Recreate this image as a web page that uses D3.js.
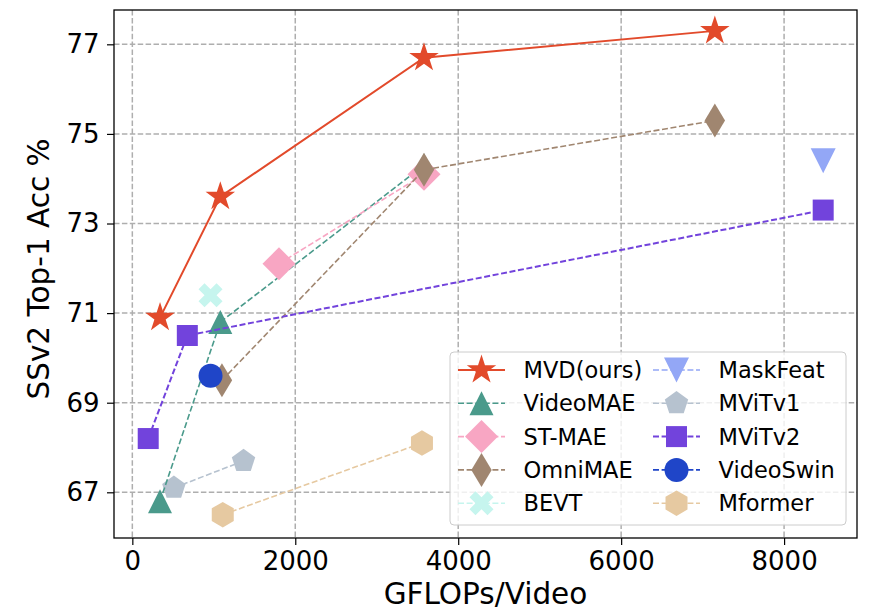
<!DOCTYPE html>
<html>
<head>
<meta charset="utf-8">
<script src="https://cdn.jsdelivr.net/npm/d3@7/dist/d3.min.js"></script>
<style>
  html, body { margin: 0; padding: 0; background: #ffffff; }
  svg { display: block; font-family: "DejaVu Sans", sans-serif; }
</style>
</head>
<body>
<svg id="chart" width="871" height="610"></svg>
<script>
// ---- data: GFLOPs per video (x) and SSv2 top-1 accuracy (y) ----
const seriesNames = ["MVD(ours)", "VideoMAE", "ST-MAE", "OmniMAE", "BEVT",
                     "MaskFeat", "MViTv1", "MViTv2", "VideoSwin", "Mformer"];

const mvdFlops       = [340, 1080, 3580, 7150];
const mvdAcc         = [70.9, 73.6, 76.7, 77.3];
const videoMaeFlops  = [340, 1080, 3580];
const videoMaeAcc    = [66.8, 70.8, 74.3];
const stMaeFlops     = [1800, 3580];
const stMaeAcc       = [72.1, 74.1];
const omniMaeFlops   = [1100, 3580, 7150];
const omniMaeAcc     = [69.5, 74.2, 75.3];
const bevtFlops      = [960];
const bevtAcc        = [71.4];
const maskFeatFlops  = [8480];
const maskFeatAcc    = [74.4];
const mvitV1Flops    = [510, 1365];
const mvitV1Acc      = [67.1, 67.7];
const mvitV2Flops    = [195, 675, 8480];
const mvitV2Acc      = [68.2, 70.5, 73.3];
const videoSwinFlops = [960];
const videoSwinAcc   = [69.6];
const mformerFlops   = [1110, 3555];
const mformerAcc     = [66.5, 68.1];

const xTicks = [0, 2000, 4000, 6000, 8000];
const yTicks = [67, 69, 71, 73, 75, 77];

// ---- styles per series ----
const colors  = ["#e24a2b", "#4a9a8b", "#f8a6c3", "#a08670", "#c6f5ee",
                 "#93a7f6", "#b6c2cf", "#7243dc", "#1f45c8", "#e6c9a1"];
const markers = ["star", "triUp", "diamond", "thinDiamond", "xFilled",
                 "triDown", "pentagon", "square", "circle", "hexagon"];
const dashed  = [false, true, true, true, true, true, true, true, true, true];
const lineW   = [2, 1.6, 1.6, 1.6, 1.6, 1.6, 1.6, 2, 1.6, 1.6];

const series = [
  [mvdFlops, mvdAcc], [videoMaeFlops, videoMaeAcc], [stMaeFlops, stMaeAcc],
  [omniMaeFlops, omniMaeAcc], [bevtFlops, bevtAcc], [maskFeatFlops, maskFeatAcc],
  [mvitV1Flops, mvitV1Acc], [mvitV2Flops, mvitV2Acc], [videoSwinFlops, videoSwinAcc],
  [mformerFlops, mformerAcc]
].map((s, i) => ({
  name: seriesNames[i], color: colors[i], marker: markers[i],
  dashed: dashed[i], width: lineW[i],
  points: s[0].map((f, j) => ({ x: f, y: s[1][j] }))
}));

// MViTv1 goes underneath the other series
const drawOrder = [6, 0, 1, 2, 3, 4, 5, 7, 8, 9];

// ---- layout ----
const svg = d3.select("#chart");
const plot = { left: 114, right: 857, top: 10, bottom: 538 };

const x = d3.scaleLinear().domain([-225, 8895]).range([plot.left, plot.right]);
const y = d3.scaleLinear().domain([65.98, 77.766]).range([plot.bottom, plot.top]);

// marker shapes, centred on (0,0)
function poly(pts) { return "M" + pts.map(p => p[0].toFixed(2) + "," + p[1].toFixed(2)).join("L") + "Z"; }
function regular(n, r, rot) {
  const pts = [];
  for (let i = 0; i < n; i++) {
    const a = (rot + i * 360 / n) * Math.PI / 180;
    pts.push([r * Math.cos(a), r * Math.sin(a)]);
  }
  return pts;
}
function markerPath(type, k) {
  k = k || 1;
  switch (type) {
    case "star": {
      const R = 15.5 * k, r = R * 0.381966, pts = [];
      for (let i = 0; i < 10; i++) {
        const a = (-90 + i * 36) * Math.PI / 180, rr = i % 2 ? r : R;
        pts.push([rr * Math.cos(a), rr * Math.sin(a)]);
      }
      return poly(pts);
    }
    case "triUp": { const s = 12 * k; return poly([[0, -s], [-s, s], [s, s]]); }
    case "triDown": { const s = 12.5 * k; return poly([[0, s], [-s, -s], [s, -s]]); }
    case "diamond": { const a = 16.5 * k; return poly([[0, -a], [a, 0], [0, a], [-a, 0]]); }
    case "thinDiamond": { const a = 17 * k, b = 10.2 * k; return poly([[0, -a], [b, 0], [0, a], [-b, 0]]); }
    case "square": { const h = 10.5 * k; return poly([[-h, -h], [h, -h], [h, h], [-h, h]]); }
    case "pentagon": return poly(regular(5, 12.3 * k, -90));
    case "hexagon": return poly(regular(6, 12.7 * k, -90));
    case "circle": { const r = 12 * k; return `M${r},0A${r},${r} 0 1,1 ${-r},0A${r},${r} 0 1,1 ${r},0Z`; }
    case "xFilled": {
      const ms = 25.5 * k;
      const base = [[-1, -3], [1, -3], [1, -1], [3, -1], [3, 1], [1, 1], [1, 3], [-1, 3], [-1, 1], [-3, 1], [-3, -1], [-1, -1]];
      const c = Math.SQRT1_2;
      return poly(base.map(p => {
        const px = p[0] / 6 * ms, py = p[1] / 6 * ms;
        return [px * c - py * c, px * c + py * c];
      }));
    }
  }
}

// ---- grid ----
const gridDash = "5.5,2.4";
const grid = svg.append("g");
grid.selectAll("line.gx").data(xTicks).join("line")
  .attr("x1", d => x(d)).attr("x2", d => x(d))
  .attr("y1", plot.top).attr("y2", plot.bottom)
  .attr("stroke", "#aeaeae").attr("stroke-width", 1.5).attr("stroke-dasharray", gridDash);
grid.selectAll("line.gy").data(yTicks).join("line")
  .attr("y1", d => y(d)).attr("y2", d => y(d))
  .attr("x1", plot.left).attr("x2", plot.right)
  .attr("stroke", "#aeaeae").attr("stroke-width", 1.5).attr("stroke-dasharray", gridDash);

// ---- series ----
svg.append("clipPath").attr("id", "plotClip").append("rect")
  .attr("x", plot.left).attr("y", plot.top)
  .attr("width", plot.right - plot.left).attr("height", plot.bottom - plot.top);

const marks = svg.append("g").attr("clip-path", "url(#plotClip)");
const line = d3.line().x(d => x(d.x)).y(d => y(d.y));

drawOrder.forEach(i => {
  const s = series[i];
  const g = marks.append("g");
  if (s.points.length > 1) {
    g.append("path").attr("d", line(s.points))
      .attr("fill", "none").attr("stroke", s.color).attr("stroke-width", s.width)
      .attr("stroke-dasharray", s.dashed ? "6,2.6" : null);
  }
  g.selectAll("path.m").data(s.points).join("path")
    .attr("class", "m")
    .attr("d", markerPath(s.marker))
    .attr("transform", d => `translate(${x(d.x)},${y(d.y)})`)
    .attr("fill", s.color);
});

// ---- axes ----
const xAxis = svg.append("g").attr("transform", `translate(0,${plot.bottom})`)
  .call(d3.axisBottom(x).tickValues(xTicks).tickFormat(d3.format("d")).tickSize(7).tickPadding(6.5));
const yAxis = svg.append("g").attr("transform", `translate(${plot.left},0)`)
  .call(d3.axisLeft(y).tickValues(yTicks).tickFormat(d3.format("d")).tickSize(7).tickPadding(7.5));
[xAxis, yAxis].forEach(a => {
  a.select(".domain").remove();
  a.selectAll(".tick line").attr("stroke", "#000").attr("stroke-width", 1.2);
  a.selectAll(".tick text").attr("fill", "#000")
    .style("font-family", "'DejaVu Sans', sans-serif").style("font-size", "26px");
});

// frame
svg.append("rect")
  .attr("x", plot.left).attr("y", plot.top)
  .attr("width", plot.right - plot.left).attr("height", plot.bottom - plot.top)
  .attr("fill", "none").attr("stroke", "#000").attr("stroke-width", 1.3);

// axis titles
svg.append("text")
  .attr("x", (plot.left + plot.right) / 2).attr("y", 604)
  .attr("text-anchor", "middle").style("font-size", "29.5px").attr("fill", "#000")
  .text("GFLOPs/Video");
svg.append("text")
  .attr("transform", `translate(49,269) rotate(-90)`)
  .attr("text-anchor", "middle").style("font-size", "29.5px").attr("fill", "#000")
  .text("SSv2 Top-1 Acc %");

// ---- legend ----
const legend = svg.append("g");
legend.append("rect")
  .attr("x", 450).attr("y", 352).attr("width", 396).attr("height", 173)
  .attr("rx", 4).attr("fill", "#ffffff").attr("fill-opacity", 0.8)
  .attr("stroke", "#cccccc").attr("stroke-width", 1);

const colX = [458, 653];
const rowY0 = 370, rowStep = 33.3;
series.forEach((s, i) => {
  const col = Math.floor(i / 5), row = i % 5;
  const lx = colX[col], ly = rowY0 + row * rowStep;
  const item = legend.append("g");
  item.append("line")
    .attr("x1", lx).attr("x2", lx + 47).attr("y1", ly).attr("y2", ly)
    .attr("stroke", s.color).attr("stroke-width", s.width)
    .attr("stroke-dasharray", s.dashed ? "6,2.6" : null);
  item.append("path")
    .attr("d", markerPath(s.marker))
    .attr("transform", `translate(${lx + 23.5},${ly})`)
    .attr("fill", s.color);
  item.append("text")
    .attr("x", lx + 65.5).attr("y", ly).attr("dy", "0.36em")
    .style("font-size", "22.5px").attr("fill", "#000")
    .text(s.name);
});
</script>
</body>
</html>
